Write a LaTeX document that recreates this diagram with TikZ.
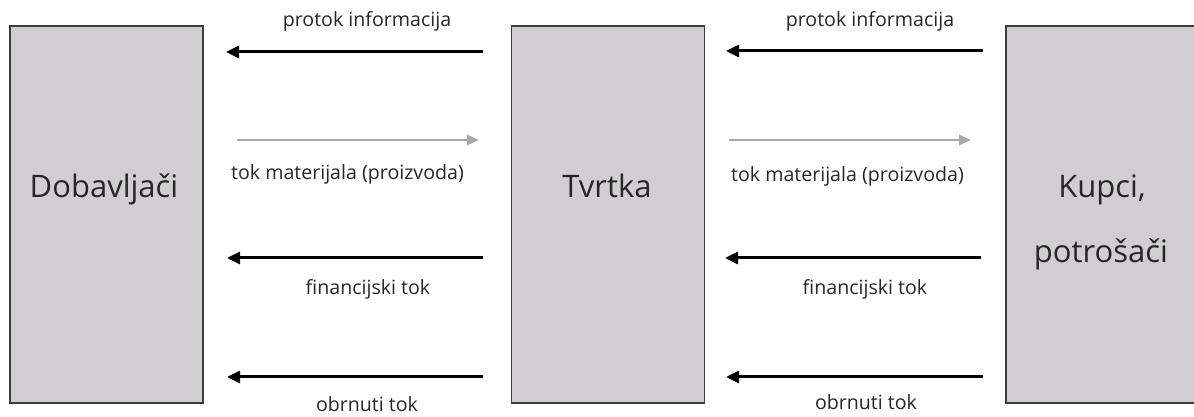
\documentclass[tikz,border=0pt]{standalone}
\usepackage{fontspec}
\setmainfont{Open Sans}
\usetikzlibrary{arrows.meta}
\definecolor{boxgray}{RGB}{208,206,208}
\definecolor{boxline}{RGB}{60,60,60}
\definecolor{lightarrow}{RGB}{168,168,168}
\tikzset{
  box/.style={draw=boxline, line width=1.2pt, fill=boxgray, minimum width=193pt, minimum height=377pt, inner sep=0pt},
  bigtext/.style={font=\fontsize{31}{37}\selectfont, text=black!85, anchor=base, inner sep=0pt},
  lbl/.style={font=\fontsize{19.6}{23}\selectfont, text=black!85, anchor=base, inner sep=0pt},
  flowarrow/.style={line width=3pt, -{Triangle[length=13pt,width=12pt]}},
  matarrow/.style={line width=2.8pt, draw=lightarrow, -{Triangle[length=12pt,width=10pt]}, color=lightarrow},
}
\begin{document}
\begin{tikzpicture}[x=1pt,y=1pt]
\useasboundingbox (0,0) rectangle (1194,417);
% boxes
\node[box] (dob) at (106.5,202.5) {};
\node[box] (tvr) at (608,202.5) {};
\node[box] (kup) at (1102.5,202.5) {};
% box texts
\node[bigtext] (tdob) at (104,219) {Dobavljači};
\node[bigtext] (ttvr) at (607,219) {Tvrtka};
\node[bigtext] (tkup1) at (1102,219) {Kupci,};
\node[bigtext] (tkup2) at (1101,154) {potrošači};
% arrow end points (left group)
\coordinate (a1s) at (483,365);
\coordinate (a1e) at (226,365);
\coordinate (a2s) at (237,277);
\coordinate (a2e) at (479,277);
\coordinate (a3s) at (483,159);
\coordinate (a3e) at (227,159);
\coordinate (a4s) at (483,40);
\coordinate (a4e) at (227,40);
% right group
\coordinate (b1s) at (983,366);
\coordinate (b1e) at (726,366);
\coordinate (b2s) at (729,277);
\coordinate (b2e) at (971,277);
\coordinate (b3s) at (981,159);
\coordinate (b3e) at (725,159);
\coordinate (b4s) at (983,40);
\coordinate (b4e) at (726,40);
\draw[flowarrow] (a1s) -- (a1e);
\draw[matarrow] (a2s) -- (a2e);
\draw[flowarrow] (a3s) -- (a3e);
\draw[flowarrow] (a4s) -- (a4e);
\draw[flowarrow] (b1s) -- (b1e);
\draw[matarrow] (b2s) -- (b2e);
\draw[flowarrow] (b3s) -- (b3e);
\draw[flowarrow] (b4s) -- (b4e);
% labels
\node[lbl] (l1) at (367,390) {protok informacija};
\node[lbl] (l2) at (347.5,237) {tok materijala (proizvoda)};
\node[lbl] (l3) at (368,122) {financijski tok};
\node[lbl] (l4) at (367,5) {obrnuti tok};
\node[lbl] (r1) at (870,390) {protok informacija};
\node[lbl] (r2) at (847.5,235) {tok materijala (proizvoda)};
\node[lbl] (r3) at (865,122) {financijski tok};
\node[lbl] (r4) at (866,7) {obrnuti tok};
\end{tikzpicture}
\end{document}
